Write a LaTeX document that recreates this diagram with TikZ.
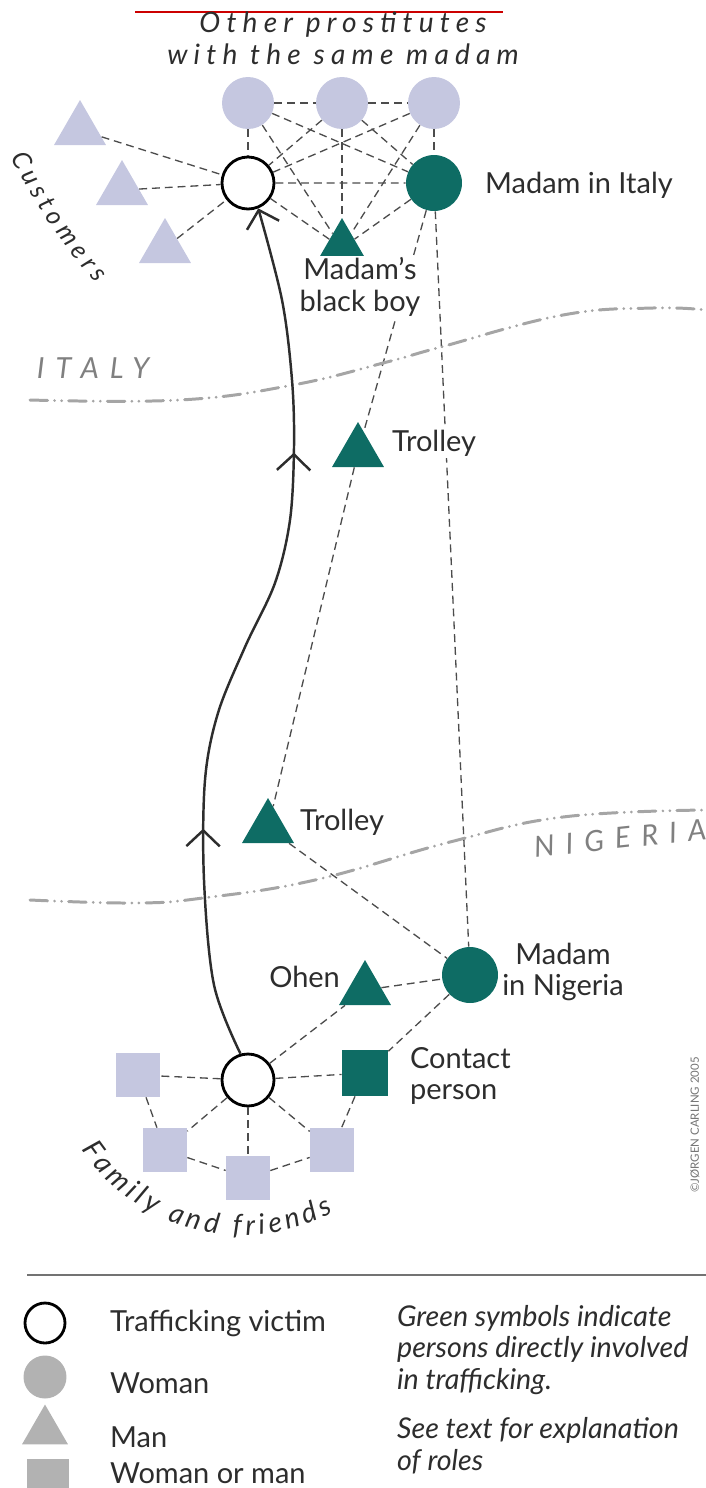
\documentclass[tikz,border=0pt]{standalone}
\usepackage{fontspec}
\setmainfont{Lato}
\newfontfamily\spaced[LetterSpace=22]{Lato}
\newfontfamily\wide[LetterSpace=38]{Lato}
\usepackage{tikz}
\usetikzlibrary{shapes.geometric,arrows.meta,decorations.markings,decorations.text}
\definecolor{lav}{RGB}{197,199,224}
\definecolor{madgreen}{RGB}{14,108,100}
\definecolor{ink}{RGB}{45,45,45}
\definecolor{keygrey}{RGB}{178,178,178}
\definecolor{bordergrey}{RGB}{165,165,165}
\tikzset{chev/.tip={Straight Barb[length=9pt,width=19pt]}}

\begin{document}
\begin{tikzpicture}[x=0.02cm, y=-0.02cm,
    victim/.style={circle, draw=black, line width=1.6pt, fill=white, minimum size=1.04cm, inner sep=0},
    woman/.style={circle, fill=lav, minimum size=1.04cm, inner sep=0},
    man/.style={regular polygon, regular polygon sides=3, fill=lav, minimum size=1.2cm, inner sep=0},
    either/.style={rectangle, fill=lav, minimum size=0.88cm, inner sep=0},
    actor/.style={fill=madgreen},
    tie/.style={draw=ink!85, line width=0.75pt, dash pattern=on 4.5pt off 2.8pt},
    border/.style={draw=bordergrey, line width=1.7pt, line cap=round,
      dash pattern=on 10pt off 4pt on 0pt off 4pt on 0pt off 4pt},
    flow/.style={draw=ink, line width=1.4pt},
    lbl/.style={text=ink, fill=white, inner sep=1pt, font=\fontsize{16.5}{18}\selectfont},
    note/.style={text=ink, inner sep=0, align=center, font=\spaced\itshape\fontsize{16}{18}\selectfont},
    land/.style={text=black!50, inner sep=0, font=\wide\itshape\fontsize{16.5}{18}\selectfont},
    curved/.style 2 args={decorate, decoration={text along path, text color=ink, text align={fit to path},
      text={|\itshape\fontsize{#1}{18}\selectfont|#2}}}]
  \path[use as bounding box, clip] (0,0) rectangle (706,1488);

  \draw [red!80!black, line width=1pt] (135,12) -- (503,12);
  \node[note] (others) at (343,38) {Other prostitutes\\with the same madam};

  % Italy
  \foreach \x [count=\k] in {248,342,434}
    \node[woman] (w\k) at (\x,103) {};
  \node[victim] (vicI) at (248,183) {};
  \node[woman, actor, minimum size=1.12cm] (madI) at (434,183) {};
  \node[man, actor] (boy) at (342,248) {};
  \foreach \x/\y [count=\k] in {80/130,122/190,165/248}
    \node[man] (cust\k) at (\x,\y) {};
  \node[man, actor] (troI) at (358,452) {};

  \draw[tie] (w1) -- (w2) -- (w3);
  \foreach \p in {w1,w2,w3}
    \foreach \q in {vicI,boy,madI}
      \draw[tie] (\p) -- (\q);
  \draw[tie] (vicI) -- (madI) -- (boy) -- (vicI);
  \foreach \k in {1,2,3}
    \draw[tie] (cust\k) -- (vicI);

  % Nigeria
  \node[man, actor] (troN) at (268,828) {};
  \node[woman, actor, minimum size=1.12cm] (madN) at (470,975) {};
  \node[man, actor] (ohen) at (365,990) {};
  \node[victim] (vicN) at (248,1080) {};
  \node[either, actor, minimum size=0.92cm] (contact) at (365,1073) {};
  \foreach \x/\y [count=\k] in {138/1075,165/1150,248/1178,332/1150}
    \node[either] (fam\k) at (\x,\y) {};

  \draw[tie] (madI) -- (troI) -- (troN) -- (madN);
  \draw[tie] (madI) -- (madN);
  \draw[tie] (ohen) -- (madN) -- (contact);
  \draw[tie] (vicN) -- (ohen);
  \draw[tie] (vicN) -- (contact) -- (fam4);
  \foreach \k in {1,...,4}
    \draw[tie] (vicN) -- (fam\k);
  \draw[tie] (fam1) -- (fam2) -- (fam3) -- (fam4);

  \node[lbl, anchor=west] (lmadI) at (483,185) {Madam in Italy};
  \node[lbl, align=center] (lboy) at (360,287) {Madam's\\black boy};
  \node[lbl, anchor=west] (ltroI) at (390,443) {Trolley};
  \node[lbl, anchor=west] (ltroN) at (298,822) {Trolley};
  \node[lbl, anchor=east] (lohen) at (342,977) {Ohen};
  \node[lbl, align=center] (lmadN) at (563,972) {Madam\\in Nigeria};
  \node[lbl, align=left, anchor=west] (lcontact) at (408,1076) {Contact\\person};

  % borders
  \draw[border] plot[smooth, tension=0.7] coordinates {(30,400) (180,400) (293,385) (387,362) (441,347) (563,315) (653,308) (706,310)};
  \draw[border] plot[smooth, tension=0.7] coordinates {(30,900) (135,903) (203,898) (315,880) (450,842) (563,817) (706,810)};
  \node[land] (italy) at (93,368) {ITALY};
  \node[land, rotate=6] (nigeria) at (620,838) {NIGERIA};

  % route of the victim
  \draw[flow, -chev, postaction={decorate}, decoration={markings,
      mark=at position 0.265 with {\arrow{chev}},
      mark=at position 0.715 with {\arrow{chev}}}]
    plot[smooth, tension=0.55] coordinates {(vicN.106) (214,985) (204,880) (205,780) (218,713) (245,647) (275,583) (290,520) (294,447) (292,380) (282,300) (vicI.-68)};

  \path[curved={14.5}{Customers}] (600,-150) ++(152.5:665) arc[start angle=152.5, end angle=139.3, radius=665];
  \path[curved={16}{Family and friends}] (242,1041) ++(146:194) arc[start angle=146, end angle=62, radius=194];

  \node[text=black!55, inner sep=0, rotate=90, font=\fontsize{6.5}{7}\selectfont] (copy) at (695,1125) {©JØRGEN CARLING 2005};

  % key
  \draw [black!55, line width=1.5pt] (27,1275) -- (706,1275);
  \node[victim, minimum size=0.8cm] (kvic) at (45,1323) {};
  \node[woman, fill=keygrey, minimum size=0.86cm] (kwoman) at (45,1377) {};
  \node[man, fill=keygrey, minimum size=1.06cm] (kman) at (45,1431) {};
  \node[either, fill=keygrey, minimum size=0.86cm] (keither) at (48,1480) {};
  \node[lbl, anchor=west] (tvic) at (108,1323) {Trafficking victim};
  \node[lbl, anchor=west] (twoman) at (108,1383) {Woman};
  \node[lbl, anchor=west] (tman) at (108,1437) {Man};
  \node[lbl, anchor=west] (teither) at (108,1473) {Woman or man};
  \node[lbl, anchor=west, align=left, font=\itshape\fontsize{16.3}{18}\selectfont] (tgreen) at (395,1350) {Green symbols indicate\\persons directly involved\\in trafficking.};
  \node[lbl, anchor=west, align=left, font=\itshape\fontsize{16.3}{18}\selectfont] (tsee) at (395,1446) {See text for explanation\\of roles};
\end{tikzpicture}
\end{document}
